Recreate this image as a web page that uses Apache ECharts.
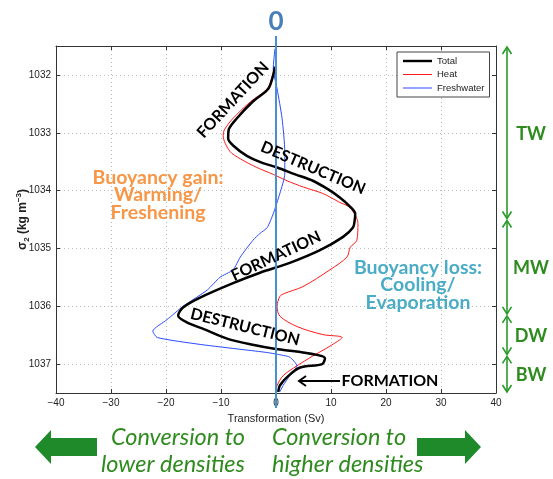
<!DOCTYPE html>
<html><head><meta charset="utf-8">
<script src="https://cdn.jsdelivr.net/npm/echarts@6/dist/echarts.min.js"></script>
<style>html,body{margin:0;padding:0;background:#fff}#c{width:553px;height:479px}</style>
</head><body><div id="c"></div>
<script>
// ---- data (Sv vs sigma2) ----
const xTicks = [-40, -30, -20, -10, 0, 10, 20, 30, 40];
const yTicks = [1032, 1033, 1034, 1035, 1036, 1037];
const totalSv    = [-0.2,-0.5,-1.4,-4.2,-7.1,-8.6,-8.7,-7.8,-5.3,-2.5,0.2,3.5,6.7,9.5,11.6,13.5,14.4,14.3,14.0,12.2,8.0,2.5,-2.9,-7.8,-13.8,-16.9,-17.8,-16.2,-13.0,-8.9,-4.0,0.0,4.9,8.9,8.4,4.4,2.3,0.7,0.4];
const totalSigma = [1031.86,1032.0,1032.24,1032.46,1032.75,1032.95,1033.1,1033.22,1033.4,1033.52,1033.6,1033.72,1033.83,1033.98,1034.12,1034.28,1034.4,1034.52,1034.64,1034.8,1035.03,1035.25,1035.42,1035.6,1035.85,1036.02,1036.16,1036.28,1036.4,1036.56,1036.67,1036.74,1036.8,1036.9,1037.0,1037.06,1037.2,1037.37,1037.48];
const heatSv    = [-0.2,-0.6,-1.6,-4.6,-7.8,-9.4,-9.6,-8.4,-6.5,-3.5,-0.5,2.0,5.0,8.5,11.5,13.5,14.9,14.7,13.5,12.9,9.8,4.9,1.5,0.7,0.2,0.7,3.8,8.5,12.0,9.8,6.7,3.8,1.3,0.2,0.0];
const heatSigma = [1031.86,1032.0,1032.24,1032.46,1032.75,1032.95,1033.05,1033.32,1033.45,1033.6,1033.72,1033.83,1033.94,1034.05,1034.2,1034.3,1034.57,1034.86,1034.98,1035.15,1035.37,1035.66,1035.78,1035.83,1036.0,1036.17,1036.35,1036.49,1036.54,1036.69,1036.86,1037.03,1037.2,1037.37,1037.48];
const freshSv    = [-0.2,-0.5,0.2,1.1,1.6,1.6,0.7,-0.5,-1.6,-2.9,-4.2,-6.5,-7.8,-10.2,-12.5,-16.9,-19.8,-22.4,-21.6,-13.8,-6.0,-1.6,0.2,2.5,3.8,2.5,1.3,0.7];
const freshSigma = [1031.55,1031.9,1032.24,1032.75,1033.32,1033.71,1034.05,1034.4,1034.64,1034.74,1034.86,1035.15,1035.37,1035.5,1035.72,1036.0,1036.23,1036.43,1036.54,1036.66,1036.75,1036.8,1036.83,1036.88,1037.03,1037.2,1037.37,1037.48];
// water mass bands (sigma2 limits)
const bandNames  = ['TW', 'MW', 'DW', 'BW'];
const bandLimits = [[1031.5, 1034.5], [1034.5, 1036.15], [1036.15, 1036.85], [1036.85, 1037.5]];

const zip = (a, b) => a.map((v, i) => [v, b[i]]);
const AX = 'Liberation Sans, Arial, sans-serif';
const CAL = 'Lato, "Open Sans", sans-serif';
const green = '#2a9a2a';

const chart = echarts.init(document.getElementById('c'), null, {renderer: 'canvas'});
const fmt = v => yTicks.includes(v) ? String(v) : '';
chart.setOption({
  animation: false,
  backgroundColor: '#fff',
  grid: {left: 56, top: 46, right: 57, bottom: 86, show: false, containLabel: false, outerBoundsMode: 'none'},
  legend: {
    data: [
      {name: 'Total', icon: 'path://M0,0H12V1H0Z'},
      {name: 'Heat', icon: 'path://M0,0H29V1H0Z'},
      {name: 'Freshwater', icon: 'path://M0,0H29V1H0Z'}
    ],
    orient: 'vertical', left: 397, top: 52,
    itemWidth: 29, itemHeight: 10, itemGap: 3.5,
    padding: [4, 5, 4, 6],
    borderColor: '#444', borderWidth: 1, backgroundColor: '#fff',
    textStyle: {fontFamily: AX, fontSize: 9.5, color: '#222'}
  },
  xAxis: [{
    type: 'value', min: -40, max: 40, interval: 10, position: 'bottom',
    name: 'Transformation (Sv)', nameLocation: 'middle', nameGap: 20, nameMoveOverlap: false,
    nameTextStyle: {fontFamily: AX, fontSize: 11, color: '#222'},
    axisLine: {show: true, onZero: false, lineStyle: {color: '#333', width: 1}},
    axisTick: {show: true, inside: true, length: 4, lineStyle: {color: '#333'}},
    axisLabel: {fontFamily: AX, fontSize: 10, color: '#222', margin: 5,
      formatter: v => xTicks.includes(v) ? String(v).replace('-', '\u2212') : ''},
    splitLine: {show: true, lineStyle: {color: '#bbb', type: [1, 3], width: 1}}
  }, {
    type: 'value', min: -40, max: 40, interval: 10, position: 'top',
    axisLine: {show: true, onZero: false, lineStyle: {color: '#333', width: 1}},
    axisTick: {show: true, inside: true, length: 4, lineStyle: {color: '#333'}},
    axisLabel: {show: false}, splitLine: {show: false}
  }],
  yAxis: [{
    type: 'value', min: 1031.5, max: 1037.5, inverse: true, position: 'left',
    name: '{a|\u03c3}{b|2}{a| (kg m}{c|\u22123}{a|)}',
    nameLocation: 'middle', nameGap: 25, nameRotate: 90, nameMoveOverlap: false,
    nameTextStyle: {
      rich: {
        a: {fontFamily: AX, fontSize: 12, fontWeight: 'bold', color: '#222', lineHeight: 16},
        b: {fontFamily: AX, fontSize: 8, fontWeight: 'bold', color: '#222', verticalAlign: 'bottom', lineHeight: 16},
        c: {fontFamily: AX, fontSize: 8, fontWeight: 'bold', color: '#222', verticalAlign: 'top', lineHeight: 16}
      }
    },
    axisLine: {show: true, onZero: false, lineStyle: {color: '#333', width: 1}},
    axisTick: {show: true, inside: true, length: 4, lineStyle: {color: '#333'}},
    axisLabel: {fontFamily: AX, fontSize: 10, color: '#222', margin: 5, formatter: fmt},
    splitLine: {show: true, lineStyle: {color: '#bbb', type: [1, 3], width: 1}}
  }, {
    type: 'value', min: 1031.5, max: 1037.5, inverse: true, position: 'right',
    axisLine: {show: true, onZero: false, lineStyle: {color: '#333', width: 1}},
    axisTick: {show: true, inside: true, length: 4, lineStyle: {color: '#333'}},
    axisLabel: {show: false}, splitLine: {show: false}
  }],
  series: [
    {name: 'Heat', type: 'line', data: zip(heatSv, heatSigma), showSymbol: false, symbol: 'none',
     smooth: 0.3, z: 3, lineStyle: {color: '#ff1a1a', width: 1}, itemStyle: {color: '#ff1a1a'}},
    {name: 'Freshwater', type: 'line', data: zip(freshSv, freshSigma), showSymbol: false, symbol: 'none',
     smooth: 0.2, z: 4, lineStyle: {color: '#2a4bff', width: 1}, itemStyle: {color: '#2a4bff'}},
    {name: 'Total', type: 'line', data: zip(totalSv, totalSigma), showSymbol: false, symbol: 'none',
     smooth: 0.3, z: 5, lineStyle: {color: '#000', width: 2.5}, itemStyle: {color: '#000'}}
  ]
});

// ---- annotations positioned from the axes ----
const P = (x, y) => chart.convertToPixel({gridIndex: 0}, [x, y]);
const g = [];
const x0 = P(0, 1031.5)[0];
const yTop = P(0, 1031.5)[1], yBot = P(0, 1037.5)[1];
g.push({type: 'line', z: 100, shape: {x1: x0, y1: yTop - 10, x2: x0, y2: yBot + 15},
  style: {stroke: '#4a8fd0', lineWidth: 2}});
g.push({type: 'text', z: 100, x: x0, y: yTop - 24,
  style: {text: '0', font: 'bold 26px ' + CAL, fill: '#4a7ebb', align: 'center', verticalAlign: 'middle'}});

// right-side water-mass arrows
const ax = 507;
bandLimits.forEach((lim, i) => {
  const t = P(0, lim[0])[1] + 1, b = P(0, lim[1])[1] - 1;
  g.push({type: 'line', z: 100, shape: {x1: ax, y1: t, x2: ax, y2: b}, style: {stroke: green, lineWidth: 1.6}});
  g.push({type: 'polyline', z: 100, shape: {points: [[ax - 4.5, t + 7], [ax, t], [ax + 4.5, t + 7]]}, style: {stroke: green, lineWidth: 1.6, fill: null}});
  g.push({type: 'polyline', z: 100, shape: {points: [[ax - 4.5, b - 7], [ax, b], [ax + 4.5, b - 7]]}, style: {stroke: green, lineWidth: 1.6, fill: null}});
  g.push({type: 'text', z: 100, x: 531, y: (t + b) / 2 + 1,
    style: {text: bandNames[i], font: 'bold 18px ' + CAL, fill: '#2e8b1e', align: 'center', verticalAlign: 'middle'}});
});

// process labels along the curves
const labels = [
  {t: 'FORMATION',   x: 233, y: 100, r: 47},
  {t: 'DESTRUCTION', x: 313, y: 168, r: -23},
  {t: 'FORMATION',   x: 276, y: 256, r: 25},
  {t: 'DESTRUCTION', x: 245, y: 327, r: -14},
  {t: 'FORMATION',   x: 390, y: 381, r: 0}
];
labels.forEach(l => g.push({type: 'text', z: 101, x: l.x, y: l.y, rotation: l.r * Math.PI / 180,
  style: {text: l.t, font: 'bold 16px ' + CAL, fill: '#000', align: 'center', verticalAlign: 'middle'}}));
g.push({type: 'line', z: 101, shape: {x1: 299, y1: 381, x2: 340, y2: 381}, style: {stroke: '#000', lineWidth: 2}});
g.push({type: 'polyline', z: 101, shape: {points: [[306, 376], [299, 381], [306, 386]]}, style: {stroke: '#000', lineWidth: 2, fill: null}});

// buoyancy texts
g.push({type: 'text', z: 101, x: 158, y: 195,
  style: {text: 'Buoyancy gain:\nWarming/\nFreshening', font: 'bold 19.5px ' + CAL, fill: '#f79646',
    align: 'center', verticalAlign: 'middle', lineHeight: 17.5}});
g.push({type: 'text', z: 101, x: 418, y: 285,
  style: {text: 'Buoyancy loss:\nCooling/\nEvaporation', font: 'bold 19.5px ' + CAL, fill: '#4bacc6',
    align: 'center', verticalAlign: 'middle', lineHeight: 17.5}});

// bottom conversion arrows and texts
const dg = '#1f8a2a';
g.push({type: 'polygon', z: 100, shape: {points: [[35, 447], [51, 430], [51, 438], [97, 438], [97, 456], [51, 456], [51, 464]]}, style: {fill: dg}});
g.push({type: 'polygon', z: 100, shape: {points: [[481, 447], [465, 430], [465, 438], [417, 438], [417, 456], [465, 456], [465, 464]]}, style: {fill: dg}});
g.push({type: 'text', z: 100, x: 245, y: 451,
  style: {text: 'Conversion to\nlower densities', font: 'italic 23.5px ' + CAL, fill: '#2e8b1e', align: 'right', verticalAlign: 'middle', lineHeight: 27}});
g.push({type: 'text', z: 100, x: 272, y: 451,
  style: {text: 'Conversion to\nhigher densities', font: 'italic 23.5px ' + CAL, fill: '#2e8b1e', align: 'left', verticalAlign: 'middle', lineHeight: 27}});

chart.setOption({graphic: {elements: g}});
</script></body></html>
